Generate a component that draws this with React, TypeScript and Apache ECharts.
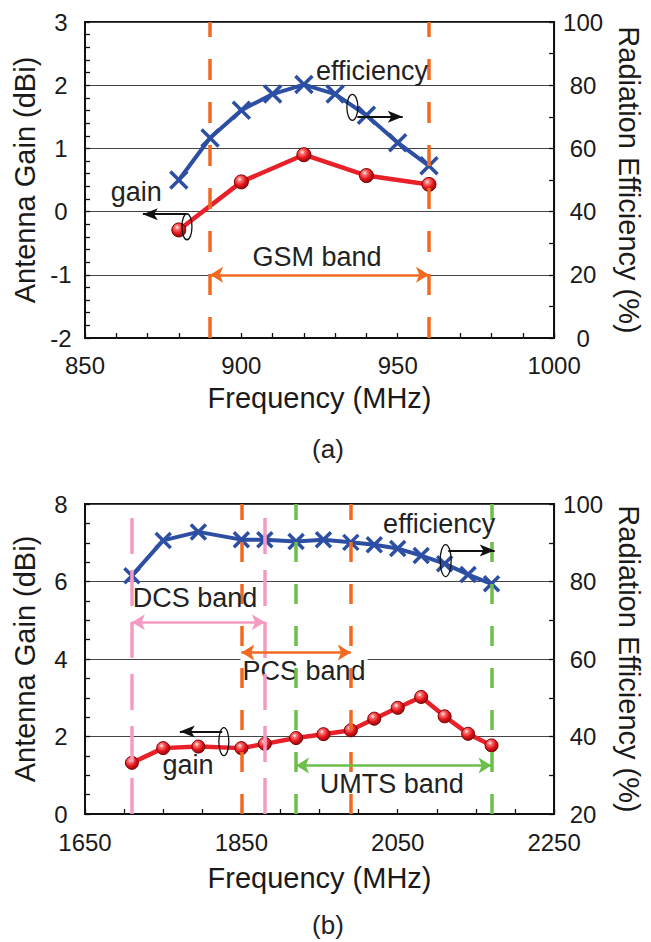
import React, { useEffect, useRef } from 'react';
import * as echarts from 'echarts';

// ---------- (a) GSM band ----------
const gsmEffFreq = [880, 890, 900, 910, 920, 930, 940, 950, 960];
const gsmEff = [50.0, 63.3, 72.1, 77.2, 80.2, 77.2, 70.5, 61.8, 54.5];
const gsmGainFreq = [880, 900, 920, 940, 960];
const gsmGain = [-0.29, 0.47, 0.9, 0.57, 0.43];
const gsmBand = [890, 960];

// ---------- (b) DCS / PCS / UMTS ----------
const hbFreq = [1710, 1750, 1795, 1850, 1880, 1920, 1955, 1990, 2020, 2050, 2080, 2110, 2140, 2170];
const hbEff = [81.5, 90.6, 92.8, 90.8, 90.8, 90.3, 90.8, 90.1, 89.5, 88.5, 86.7, 84.6, 81.8, 79.4];
const hbGain = [1.32, 1.7, 1.74, 1.7, 1.81, 1.96, 2.06, 2.16, 2.46, 2.74, 3.02, 2.52, 2.07, 1.77];
const dcsBand = [1710, 1880];
const pcsBand = [1850, 1990];
const umtsBand = [1920, 2170];

// axis ranges [min, max, interval]
const topX = [850, 1000, 50];
const topGainAxis = [-2, 3, 1];
const topEffAxis = [0, 100, 20];
const botX = [1650, 2250, 200];
const botGainAxis = [0, 8, 2];
const botEffAxis = [20, 100, 20];

const FONT = "'Liberation Sans', Arial, Helvetica, sans-serif";
const INK = '#1a1a1a';
const BLUE = '#2d4fa3';
const RED = '#e8202a';
const ORANGE = '#f26a21';
const PINK = '#f49ac3';
const GREEN = '#6cc04a';

const zip = (xs: number[], ys: number[]) => xs.map((x, i) => [x, ys[i]]);
const plain = (v: number) => String(v);

function xAxisOpt(gridIndex: number, r: number[], minorSplit: number, labelMargin: number, nameGap: number) {
  return {
    type: 'value', gridIndex, min: r[0], max: r[1], interval: r[2],
    name: 'Frequency (MHz)', nameLocation: 'middle', nameGap,
    nameTextStyle: { fontSize: 29, fontFamily: FONT, color: INK },
    axisLine: { show: true, onZero: false, lineStyle: { color: '#111', width: 2 } },
    axisTick: { show: true, inside: true, length: 5, lineStyle: { color: '#111', width: 1.3 } },
    minorTick: { show: true, splitNumber: minorSplit, length: 5, lineStyle: { color: '#111', width: 1.3 } },
    axisLabel: { fontSize: 24, fontFamily: FONT, color: INK, margin: labelMargin, formatter: plain },
    splitLine: { show: false },
  };
}

function yAxisOpt(gridIndex: number, position: string, r: number[], minorSplit: number, name: string, nameGap: number, split: boolean) {
  const right = position === 'right';
  return {
    type: 'value', gridIndex, position, min: r[0], max: r[1], interval: r[2],
    name, nameLocation: 'middle', nameGap, nameRotate: right ? -90 : 90,
    nameTextStyle: { fontSize: 29, fontFamily: FONT, color: INK },
    axisLine: { show: true, onZero: false, lineStyle: { color: '#111', width: 2 } },
    axisTick: { show: true, inside: true, length: 5, lineStyle: { color: '#111', width: 1.3 } },
    minorTick: { show: true, splitNumber: minorSplit, length: 5, lineStyle: { color: '#111', width: 1.3 } },
    axisLabel: { fontSize: 24, fontFamily: FONT, color: INK, align: 'center', margin: right ? 29 : 24, formatter: plain },
    splitLine: { show: split, lineStyle: { color: '#444', width: 1.2 } },
  };
}

const crossSymbol = 'path://M0,0L10,10M10,0L0,10';
const ballColor = () =>
  new echarts.graphic.RadialGradient(0.38, 0.32, 0.72, [
    { offset: 0, color: '#ffffff' },
    { offset: 0.22, color: '#ff7070' },
    { offset: 0.6, color: '#e3141b' },
    { offset: 1, color: '#8c0a0a' },
  ]);

const effSeries = (xi: number, yi: number, data: number[][], size: number) => ({
  type: 'line', xAxisIndex: xi, yAxisIndex: yi, data, z: 3,
  showAllSymbol: true, symbol: crossSymbol, symbolSize: size,
  lineStyle: { color: BLUE, width: 4 },
  itemStyle: { color: BLUE, borderColor: BLUE, borderWidth: 3.5 },
  emphasis: { disabled: true },
});

const gainSeries = (xi: number, yi: number, data: number[][], size: number, markData: any[]) => ({
  type: 'line', xAxisIndex: xi, yAxisIndex: yi, data, z: 3,
  showAllSymbol: true, symbol: 'circle', symbolSize: size, color: RED,
  lineStyle: { color: RED, width: 4.5 },
  itemStyle: { color: ballColor(), borderColor: '#7a0000', borderWidth: 1 },
  emphasis: { disabled: true },
  markLine: {
    silent: true, symbol: ['none', 'none'], label: { show: false }, animation: false,
    emphasis: { disabled: true },
    data: markData,
  },
});

const vline = (x: number, color: string, dash: number[]) => ({
  xAxis: x, lineStyle: { color, width: 3.5, type: dash },
});
const bandArrow = (band: number[], y: number, color: string) => [
  { coord: [band[0], y], symbol: 'arrow', symbolSize: [12, 13], lineStyle: { color, width: 2.5, type: 'solid' } },
  { coord: [band[1], y], symbol: 'arrow', symbolSize: [12, 13] },
];
const blackArrow = (x0: number, x1: number, y: number) => [
  { coord: [x0, y], symbol: 'none', lineStyle: { color: '#111', width: 2, type: 'solid' } },
  { coord: [x1, y], symbol: 'arrow', symbolSize: [9, 15] },
];

// annotation anchors, in each panel's frequency / gain units
const texts = [
  { g: 0, at: [941.8, 2.23], text: 'efficiency' },
  { g: 0, at: [866.4, 0.31], text: 'gain' },
  { g: 0, at: [924.2, -0.72], text: 'GSM band' },
  { g: 1, at: [2103, 7.48], text: 'efficiency' },
  { g: 1, at: [1790.8, 5.58], text: 'DCS band' },
  { g: 1, at: [1930.2, 3.69], text: 'PCS band', bg: true },
  { g: 1, at: [2042.3, 0.77], text: 'UMTS band' },
  { g: 1, at: [1781.7, 1.26], text: 'gain' },
];
const loops = [
  { g: 0, at: [935.5, 1.65], rx: 5.5, ry: 13 },
  { g: 0, at: [882.6, -0.24], rx: 5, ry: 13 },
  { g: 1, at: [2111.3, 6.54], rx: 5.5, ry: 16 },
  { g: 1, at: [1827.6, 1.87], rx: 5, ry: 14 },
];

export default function App() {
  const ref = useRef<HTMLDivElement>(null);
  useEffect(() => {
    document.body.style.margin = '0';
    const chart = echarts.init(ref.current!, null, { renderer: 'svg' });
    const option: any = {
      animation: false,
      backgroundColor: '#ffffff',
      grid: [
        { left: 85, top: 22, width: 484, height: 316, show: true, borderColor: '#111', borderWidth: 2, backgroundColor: 'transparent' },
        { left: 85, top: 504, width: 484, height: 310, show: true, borderColor: '#111', borderWidth: 2, backgroundColor: 'transparent' },
      ],
      xAxis: [
        xAxisOpt(0, topX, 5, 15, 45),
        xAxisOpt(1, botX, 4, 16, 49),
      ],
      yAxis: [
        yAxisOpt(0, 'left', topGainAxis, 5, 'Antenna Gain (dBi)', 46, true),
        yAxisOpt(0, 'right', topEffAxis, 2, 'Radiation Efficiency (%)', 52, false),
        yAxisOpt(1, 'left', botGainAxis, 4, 'Antenna Gain (dBi)', 46, true),
        yAxisOpt(1, 'right', botEffAxis, 2, 'Radiation Efficiency (%)', 52, false),
      ],
      series: [
        gainSeries(0, 0, zip(gsmGainFreq, gsmGain), 14, [
          vline(gsmBand[0], ORANGE, [21, 22]),
          vline(gsmBand[1], ORANGE, [21, 22]),
          bandArrow(gsmBand, -1, ORANGE),
          blackArrow(882.4, 868.5, -0.04),
          blackArrow(937.1, 951.6, 1.5),
        ]),
        effSeries(0, 1, zip(gsmEffFreq, gsmEff), 17),
        gainSeries(1, 2, zip(hbFreq, hbGain), 13, [
          vline(dcsBand[0], PINK, [36, 16]),
          vline(dcsBand[1], PINK, [36, 16]),
          vline(pcsBand[0], ORANGE, [20, 22]),
          vline(pcsBand[1], ORANGE, [20, 22]),
          vline(umtsBand[0], GREEN, [20, 22]),
          vline(umtsBand[1], GREEN, [20, 22]),
          bandArrow(dcsBand, 4.95, PINK),
          bandArrow(pcsBand, 4.17, ORANGE),
          bandArrow(umtsBand, 1.25, GREEN),
          blackArrow(1825.5, 1771.3, 2.13),
          blackArrow(2114.7, 2174, 6.8),
        ]),
        effSeries(1, 3, zip(hbFreq, hbEff), 15),
      ],
    };
    chart.setOption(option);

    const toPx = (g: number, at: number[]) =>
      chart.convertToPixel({ xAxisIndex: g, yAxisIndex: g === 0 ? 0 : 2 } as any, at) as number[];

    const graphic: any[] = [];
    texts.forEach((t) => {
      const [x, y] = toPx(t.g, t.at);
      graphic.push({
        type: 'text', x, y, z: t.bg ? 1 : 10, silent: true,
        style: {
          text: t.text, font: `27px ${FONT}`, fill: '#222',
          align: 'center', verticalAlign: 'middle', textAlign: 'center', textVerticalAlign: 'middle',
          backgroundColor: t.bg ? '#ffffff' : undefined, padding: t.bg ? [0, 2] : undefined,
        },
      });
    });
    loops.forEach((l) => {
      const [cx, cy] = toPx(l.g, l.at);
      graphic.push({
        type: 'ellipse', z: 10, silent: true,
        shape: { cx, cy, rx: l.rx, ry: l.ry },
        style: { fill: 'none', stroke: '#111', lineWidth: 1.3 },
      });
    });
    graphic.push({
      type: 'text', x: 328, y: 449, z: 10,
      style: { text: '(a)', font: `26px ${FONT}`, fill: '#222', align: 'center', verticalAlign: 'middle', textAlign: 'center', textVerticalAlign: 'middle' },
    });
    graphic.push({
      type: 'text', x: 328, y: 925, z: 10,
      style: { text: '(b)', font: `26px ${FONT}`, fill: '#222', align: 'center', verticalAlign: 'middle', textAlign: 'center', textVerticalAlign: 'middle' },
    });
    chart.setOption({ graphic });

    return () => chart.dispose();
  }, []);
  return <div ref={ref} style={{ position: 'absolute', left: 0, top: 0, width: 651, height: 942 }} />;
}
